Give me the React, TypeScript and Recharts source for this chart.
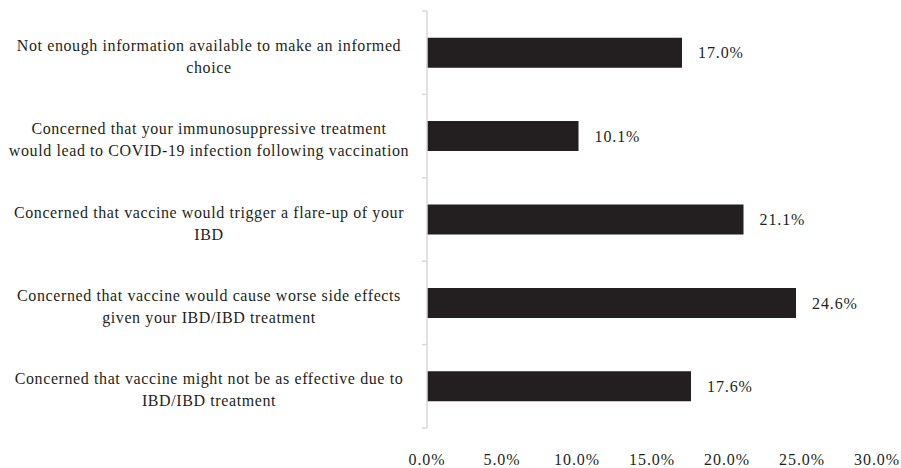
import React from 'react';
import { BarChart, Bar, XAxis, YAxis, LabelList } from 'recharts';

const categories = [
  'Not enough information available to make an informed\nchoice',
  'Concerned that your immunosuppressive treatment\nwould lead to COVID-19 infection following vaccination',
  'Concerned that vaccine would trigger a flare-up of your\nIBD',
  'Concerned that vaccine would cause worse side effects\ngiven your IBD/IBD treatment',
  'Concerned that vaccine might not be as effective due to\nIBD/IBD treatment',
];
const percents = [17.0, 10.1, 21.1, 24.6, 17.6];
const xTicks = [0, 5, 10, 15, 20, 25, 30];

const data = categories.map((name, i) => ({ name, value: percents[i] }));

const FONT = '"Liberation Serif", "Times New Roman", serif';
const INK = '#231f20';
const GRID = '#d9d9d9';

const W = 901;
const H = 468;
const MARGIN = { top: 11, right: 24, bottom: 10, left: 0 };
const X_AXIS_H = 30;
const Y_AXIS_W = 427;
const BAND = (H - MARGIN.top - MARGIN.bottom - X_AXIS_H) / categories.length;

// two-line centred category labels + tick marks on the band edges
const CategoryTick = ({ x, y, payload, index }: any) => {
  const lines = String(payload.value).split('\n');
  const cx = x - 218;
  const top = y + 3 - ((lines.length - 1) * 22) / 2;
  const last = index === categories.length - 1;
  return (
    <g>
      <line x1={x - 5} x2={x} y1={y - BAND / 2} y2={y - BAND / 2} stroke={GRID} strokeWidth={1.5} />
      {last && <line x1={x - 5} x2={x} y1={y + BAND / 2} y2={y + BAND / 2} stroke={GRID} strokeWidth={1.5} />}
      <text x={cx} y={top} textAnchor="middle" dominantBaseline="central" fill={INK} fontSize={16} fontFamily={FONT} letterSpacing={0.6}>
        {lines.map((l, i) => (
          <tspan key={i} x={cx} y={top + i * 22}>{l}</tspan>
        ))}
      </text>
    </g>
  );
};

export default function App() {
  return (
    <div style={{ position: 'absolute', left: 0, top: 0, background: '#fff' }}>
      <BarChart
        width={W}
        height={H}
        data={data}
        layout="vertical"
        margin={MARGIN}
        barCategoryGap="32%"
      >
        <YAxis
          type="category"
          dataKey="name"
          width={Y_AXIS_W}
          axisLine={{ stroke: GRID, strokeWidth: 1.5 }}
          tickLine={false}
          tickSize={0}
          tickMargin={0}
          interval={0}
          tick={<CategoryTick />}
        />
        <XAxis
          type="number"
          domain={[0, 30]}
          ticks={xTicks}
          height={X_AXIS_H}
          axisLine={false}
          tickLine={false}
          tickSize={0}
          tickMargin={26}
          interval={0}
          tickFormatter={(v: number) => `${v.toFixed(1)}%`}
          tick={{ fill: INK, fontSize: 16, fontFamily: FONT, letterSpacing: 0.9 }}
        />
        <Bar dataKey="value" fill={INK} isAnimationActive={false}>
          <LabelList
            dataKey="value"
            position="right"
            offset={16}
            formatter={(v: any) => `${Number(v).toFixed(1)}%`}
            fill={INK}
            fontSize={16}
            fontFamily={FONT}
            style={{ letterSpacing: 0.9 }}
          />
        </Bar>
      </BarChart>
    </div>
  );
}
